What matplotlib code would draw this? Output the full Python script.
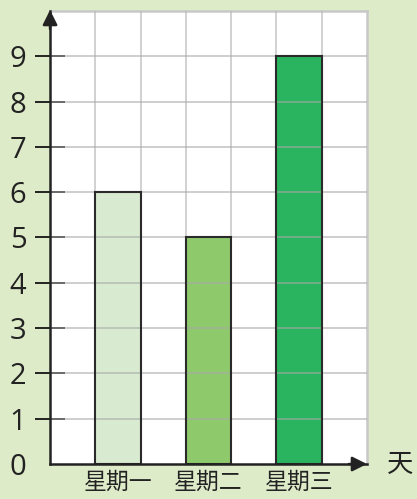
import matplotlib.pyplot as plt

plt.rcParams['font.family'] = ['Noto Sans CJK SC', 'DejaVu Sans']

days = ['星期一', '星期二', '星期三']
values = [6, 5, 9]
bar_colors = ['#d8ead0', '#8ec96b', '#2bb45f']
y_ticks = [0, 1, 2, 3, 4, 5, 6, 7, 8, 9]

bg = '#deebc9'
fig = plt.figure(figsize=(4.17, 4.99), dpi=100, facecolor=bg)
ax = fig.add_axes([0.12, 0.0701, 0.76, 0.908])
ax.set_facecolor('white')

# bars sit in every other grid column
positions = [1.5, 3.5, 5.5]
ax.bar(positions, values, width=1.0, color=bar_colors, linewidth=0, zorder=2)

ax.set_xlim(0, 7)
ax.set_ylim(0, 10)

# grid drawn over the bar fills, faintly
for x in range(1, 7):
    ax.axvline(x, color='#b8b8b8', lw=1.3, alpha=0.7, zorder=3)
for y in range(1, 10):
    ax.axhline(y, color='#a8a8a8', lw=1.3, alpha=0.6, zorder=3)

# bar outlines on top of the grid
ax.bar(positions, values, width=1.0, fill=False,
       edgecolor='#2a2a2a', linewidth=1.5, zorder=4)

for side in ['top', 'right']:
    ax.spines[side].set_color('#c8c8c8')
    ax.spines[side].set_linewidth(1.8)
for side in ['left', 'bottom']:
    ax.spines[side].set_color('#222222')
    ax.spines[side].set_linewidth(1.8)
    ax.spines[side].set_zorder(5)

ax.set_yticks(y_ticks)
ax.set_yticklabels([str(v) for v in y_ticks], fontsize=21,
                   family=['Open Sans', 'DejaVu Sans'], color='#222222')
ax.tick_params(axis='y', direction='inout', length=22, width=1.4,
               color='#222222', pad=6)
ax.yaxis.get_major_ticks()[0].tick1line.set_visible(False)

ax.set_xticks(positions)
ax.set_xticklabels(days, fontsize=16.5, color='#222222')
ax.tick_params(axis='x', length=0, pad=5)

# axis arrows
ax.annotate('', xy=(0, 10.02), xytext=(0, 9.6), xycoords='data',
            arrowprops=dict(arrowstyle='-|>', color='#222222', lw=1.8,
                            mutation_scale=22, shrinkA=0, shrinkB=0),
            annotation_clip=False, zorder=6)
ax.annotate('', xy=(7.0, 0), xytext=(6.6, 0), xycoords='data',
            arrowprops=dict(arrowstyle='-|>', color='#222222', lw=1.8,
                            mutation_scale=22, shrinkA=0, shrinkB=0),
            annotation_clip=False, zorder=6)

ax.text(7.45, 0, '天', fontsize=19, color='#222222', va='center',
        ha='left', clip_on=False)

fig.savefig('out.png', dpi=100, facecolor=bg)
